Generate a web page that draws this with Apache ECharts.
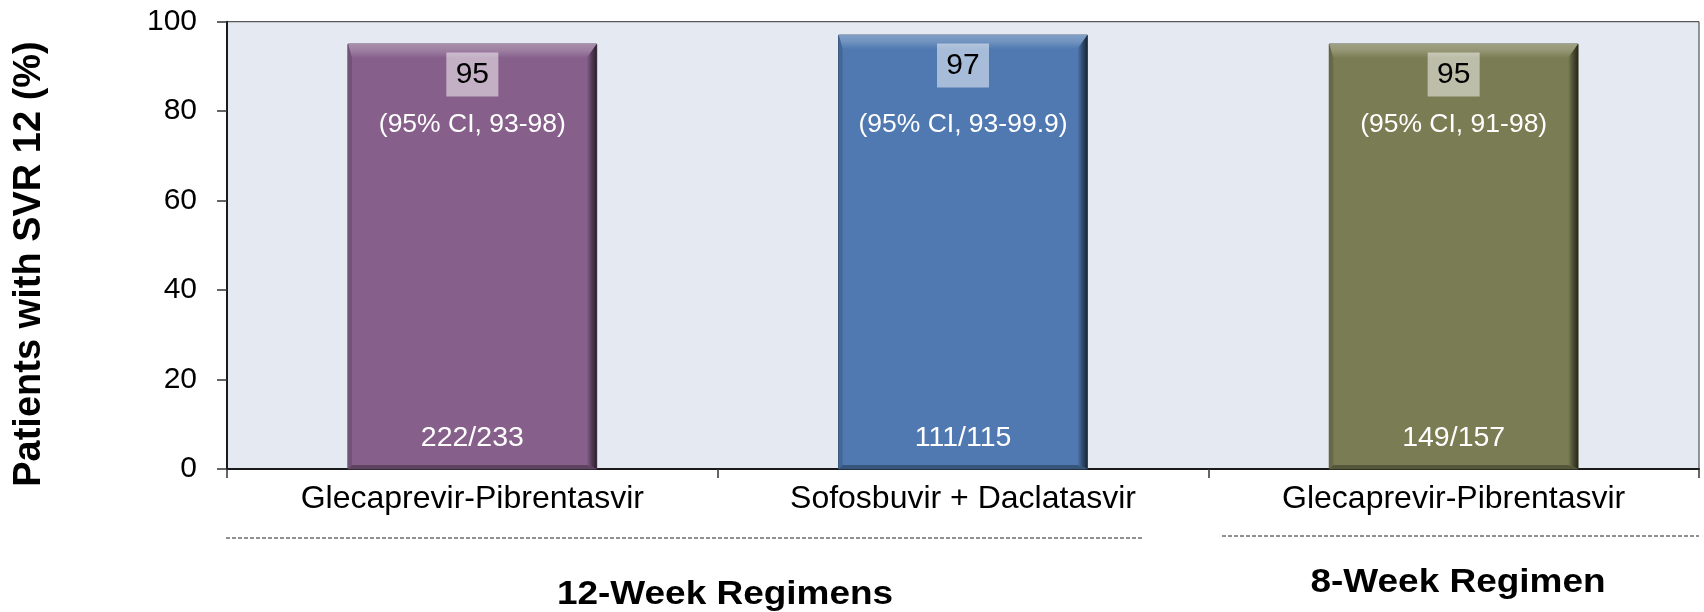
<!DOCTYPE html>
<html>
<head>
<meta charset="utf-8">
<script src="https://cdn.jsdelivr.net/npm/echarts@6/dist/echarts.min.js"></script>
<style>
  html, body { margin: 0; padding: 0; background: #ffffff; }
  #chart { width: 1704px; height: 612px; }
</style>
</head>
<body>
<div id="chart"></div>
<script>
// ---- data ----
const categories = ['Glecaprevir-Pibrentasvir', 'Sofosbuvir + Daclatasvir', 'Glecaprevir-Pibrentasvir'];
const svrValues = [95, 97, 95];
const ciLabels = ['(95% CI, 93-98)', '(95% CI, 93-99.9)', '(95% CI, 91-98)'];
const nLabels = ['222/233', '111/115', '149/157'];
const yTicks = [0, 20, 40, 60, 80, 100];
const groupLabels = ['12-Week Regimens', '8-Week Regimen'];
const yTitle = 'Patients with SVR 12 (%)';

// ---- styles ----
const barColors = ['#86608B', '#4F79B0', '#7A7C53'];
const FONT = '"Liberation Sans", Arial, Helvetica, sans-serif';
const BAR_RATIO = 0.507;
const CI_LEVEL = 77; // vertical placement of CI text (axis units)

function shade(hex, f) {
  const n = parseInt(hex.slice(1), 16);
  let r = (n >> 16) & 255, g = (n >> 8) & 255, b = n & 255;
  if (f >= 0) { r += (255 - r) * f; g += (255 - g) * f; b += (255 - b) * f; }
  else { r *= 1 + f; g *= 1 + f; b *= 1 + f; }
  return 'rgb(' + Math.round(r) + ',' + Math.round(g) + ',' + Math.round(b) + ')';
}

const chart = echarts.init(document.getElementById('chart'), null, { renderer: 'canvas' });

function renderBar(params, api) {
  const i = api.value(0);
  const v = api.value(1);
  const base = api.coord([i, 0]);
  const top = api.coord([i, v]);
  const ciPt = api.coord([i, CI_LEVEL]);
  const bw = api.size([1, 0])[0] * BAR_RATIO;
  const cx = base[0];
  const x0 = cx - bw / 2, x1 = cx + bw / 2, y0 = top[1], y1 = base[1];
  const col = barColors[i % barColors.length];
  const bt = 14, br = 10, bl = 4, bb = 4;
  const children = [
    { type: 'rect', shape: { x: x0, y: y0, width: bw, height: y1 - y0 },
      style: { fill: col, stroke: shade(col, -0.4), lineWidth: 1 } },
    // top bevel
    { type: 'polygon', shape: { points: [[x0, y0], [x1, y0], [x1 - br, y0 + bt], [x0 + bl, y0 + bt]] },
      style: { fill: new echarts.graphic.LinearGradient(0, 0, 0, 1, [
        { offset: 0, color: shade(col, 0.28) }, { offset: 0.45, color: shade(col, 0.2) }, { offset: 1, color: col }]) } },
    // right bevel
    { type: 'polygon', shape: { points: [[x1, y0], [x1, y1], [x1 - br, y1 - bb], [x1 - br, y0 + bt]] },
      style: { fill: new echarts.graphic.LinearGradient(0, 0, 1, 0, [
        { offset: 0, color: col }, { offset: 0.5, color: shade(col, -0.38) }, { offset: 1, color: shade(col, -0.68) }]) } },
    // left bevel
    { type: 'polygon', shape: { points: [[x0, y0], [x0 + bl, y0 + bt], [x0 + bl, y1 - bb], [x0, y1]] },
      style: { fill: shade(col, -0.15) } },
    // bottom bevel
    { type: 'polygon', shape: { points: [[x0, y1], [x0 + bl, y1 - bb], [x1 - br, y1 - bb], [x1, y1]] },
      style: { fill: shade(col, -0.3) } },
    // value box
    { type: 'rect', shape: { x: cx - 26, y: y0 + 8.5, width: 52, height: 44 },
      style: { fill: 'rgba(255,255,255,0.5)' } },
    { type: 'text', style: { text: String(v), x: cx, y: y0 + 31, align: 'center', verticalAlign: 'middle',
      fill: '#000', fontSize: 30, fontFamily: FONT } },
    { type: 'text', style: { text: ciLabels[i], x: cx, y: ciPt[1], align: 'center', verticalAlign: 'middle',
      fill: '#fff', fontSize: 26.5, fontFamily: FONT } },
    { type: 'text', style: { text: nLabels[i], x: cx, y: y1 - 31, align: 'center', verticalAlign: 'middle',
      fill: '#fff', fontSize: 28.5, fontFamily: FONT } }
  ];
  return { type: 'group', children: children };
}

const option = {
  animation: false,
  backgroundColor: '#ffffff',
  grid: { left: 227, right: 5, top: 21.7, bottom: 143, show: true, backgroundColor: '#E5E9F1',
    borderColor: '#333', borderWidth: 1, containLabel: false },
  xAxis: {
    type: 'category',
    data: categories,
    axisLine: { show: true, lineStyle: { color: '#1a1a1a', width: 2 } },
    axisTick: { show: true, length: 9, lineStyle: { color: '#333', width: 1.5 } },
    axisLabel: { margin: 14, fontSize: 32, fontFamily: FONT, color: '#000' },
    splitLine: { show: false }
  },
  yAxis: {
    type: 'value',
    min: yTicks[0], max: yTicks[yTicks.length - 1], interval: yTicks[1] - yTicks[0],
    axisLine: { show: true, lineStyle: { color: '#1a1a1a', width: 2 } },
    axisTick: { show: true, length: 10, lineStyle: { color: '#333', width: 1.5 } },
    axisLabel: { margin: 30, fontSize: 30, fontFamily: FONT, color: '#000' },
    splitLine: { show: false }
  },
  series: [{
    type: 'custom',
    renderItem: renderBar,
    data: categories.map(function (c, i) { return [i, svrValues[i]]; }),
    clip: false
  }],
  graphic: [
    { type: 'text', x: 30, y: 264, rotation: Math.PI / 2,
      style: { text: yTitle, align: 'center', verticalAlign: 'middle', fill: '#000',
        fontSize: 38, fontWeight: 'bold', fontFamily: FONT } },
    { type: 'line', shape: { x1: 226, y1: 538, x2: 1143, y2: 538 },
      style: { stroke: '#222', lineWidth: 1, lineDash: [4, 2] } },
    { type: 'line', shape: { x1: 1222, y1: 536, x2: 1699, y2: 536 },
      style: { stroke: '#222', lineWidth: 1, lineDash: [4, 2] } },
    { type: 'text', x: 725, y: 595, scaleX: 1.12,
      style: { text: groupLabels[0], align: 'center', verticalAlign: 'middle', fill: '#000',
        fontSize: 33, fontWeight: 'bold', fontFamily: FONT } },
    { type: 'text', x: 1458, y: 583, scaleX: 1.12,
      style: { text: groupLabels[1], align: 'center', verticalAlign: 'middle', fill: '#000',
        fontSize: 33, fontWeight: 'bold', fontFamily: FONT } }
  ]
};
chart.setOption(option);
</script>
</body>
</html>
